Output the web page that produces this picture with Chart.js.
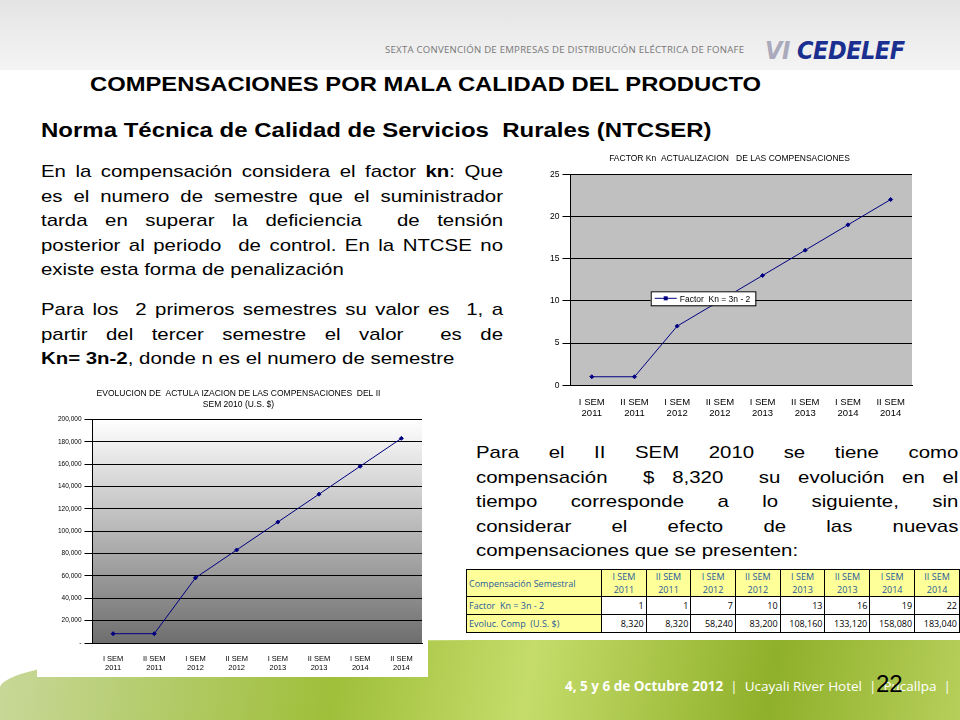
<!DOCTYPE html>
<html>
<head>
<meta charset="utf-8">
<script src="https://cdn.jsdelivr.net/npm/chart.js@4"></script>
<style>
  body { margin: 0; width: 960px; height: 720px; position: relative; overflow: hidden;
         font-family: "Liberation Sans", Arial, sans-serif; background: #fff; }
  .topband { position: absolute; left: 0; top: 0; width: 960px; height: 70px;
             background: linear-gradient(#e4e4e4, #f4f4f4); }
  .conv { position: absolute; left: 385px; top: 43px; font-family: "Open Sans", sans-serif;
          font-size: 9.6px; color: #777; letter-spacing: 0.25px; }
  .logo { position: absolute; left: 765px; top: 36px; font: italic bold 25px "Liberation Sans Narrow", "DejaVu Sans Condensed", sans-serif;
          color: #1a2f8f; letter-spacing: -0.5px; }
  .logo span { color: #aab; }
  .h1, .h2 { position: absolute; font-weight: bold; font-size: 19.5px; transform-origin: 0 0; white-space: nowrap; }
  .h1 { left: 90px; top: 73px; transform: scaleX(1.22); }
  .h2 { left: 41px; top: 119px; transform: scaleX(1.23); }
  .txt { position: absolute; font-size: 17px; transform: scaleX(1.2); transform-origin: 0 0; }
  .txt div { height: 24.5px; text-align: justify; text-align-last: justify; white-space: nowrap; }
  .txt div.last { text-align-last: left; }
  .box { position: absolute; background: #fff; }
  .footer { position: absolute; left: 0; top: 640px; width: 960px; height: 80px;
            background: linear-gradient(100deg, #c8d89a 0%, #9fbf3a 35%, #c5dc6a 55%, #8fb02a 80%, #b6cf5a 100%);
            border-top-left-radius: 50% 60%; }
  .foottxt { position: absolute; left: 565px; top: 677px; font-family: "Open Sans", sans-serif; font-size: 13.5px; color: #fff; }
  .pg { position: absolute; left: 876px; top: 670px; font-size: 24px; color: #000; }
  table { position: absolute; left: 466px; top: 569px; border-collapse: collapse;
          font-family: "Open Sans", sans-serif; font-size: 9px; }
  td { border: 1px solid #000; padding: 0 2px; height: 17px; }
  td.h { background: #ffff99; color: #1f5a9a; text-align: center; line-height: 13px; width: 40px; }
  td.l { background: #ffff99; color: #1f5a9a; width: 132px; }
  td.v { text-align: right; }
</style>
</head>
<body>
<div class="topband"></div>
<div class="conv">SEXTA CONVENCIÓN DE EMPRESAS DE DISTRIBUCIÓN ELÉCTRICA DE FONAFE</div>
<div class="logo"><span>VI</span> CEDELEF</div>
<div class="footer"></div>
<div class="foottxt"><b>4, 5 y 6 de Octubre 2012</b> &nbsp;|&nbsp; Ucayali River Hotel &nbsp;|&nbsp; Pucallpa &nbsp;|</div>
<div class="pg">22</div>

<div class="h1">COMPENSACIONES POR MALA CALIDAD DEL PRODUCTO</div>
<div class="h2">Norma Técnica de Calidad de Servicios &nbsp;Rurales (NTCSER)</div>

<div class="txt" style="left:41px; top:162px; width:385px;">
  <div>En la compensación considera el factor <b>kn</b>: Que</div>
  <div>es el numero de semestre que el suministrador</div>
  <div>tarda en superar la deficiencia &nbsp;de tensión</div>
  <div>posterior al periodo &nbsp;de control. En la NTCSE no</div>
  <div class="last">existe esta forma de penalización</div>
</div>
<div class="txt" style="left:41px; top:300px; width:385px;">
  <div>Para los &nbsp;2 primeros semestres su valor es &nbsp;1, a</div>
  <div>partir del tercer semestre el valor &nbsp;es de</div>
  <div class="last"><b>Kn= 3n-2</b>, donde n es el numero de semestre</div>
</div>
<div class="txt" style="left:476px; top:443px; width:402px;">
  <div>Para el II SEM 2010 se tiene como</div>
  <div>compensación &nbsp;$ 8,320 &nbsp;su evolución en el</div>
  <div>tiempo corresponde a lo siguiente, sin</div>
  <div>considerar el efecto de las nuevas</div>
  <div class="last">compensaciones que se presenten:</div>
</div>

<div class="box" style="left:543px; top:148px; width:375px; height:276px;"><canvas id="c1"></canvas></div>
<div class="box" style="left:37px; top:383px; width:391px; height:294px;"><canvas id="c2"></canvas></div>

<table id="tbl"></table>

<script>
const semestres = [["I SEM", "2011"], ["II SEM", "2011"], ["I SEM", "2012"], ["II SEM", "2012"],
                   ["I SEM", "2013"], ["II SEM", "2013"], ["I SEM", "2014"], ["II SEM", "2014"]];
const factorKn = [1, 1, 7, 10, 13, 16, 19, 22];
const evolComp = [8320, 8320, 58240, 83200, 108160, 133120, 158080, 183040];

// table
const tbl = document.getElementById("tbl");
let html = '<tr><td class="l">Compensación Semestral</td>' +
  semestres.map((s) => '<td class="h">' + s[0] + '<br>' + s[1] + '</td>').join("") + '</tr>';
html += '<tr><td class="l">Factor &nbsp;Kn = 3n - 2</td>' + factorKn.map((v) => '<td class="v">' + v + '</td>').join("") + '</tr>';
html += '<tr><td class="l">Evoluc. Comp &nbsp;(U.S. $)</td>' + evolComp.map((v) => '<td class="v">' + v.toLocaleString("en-US") + '</td>').join("") + '</tr>';
tbl.innerHTML = html;

const plotBg = {
  id: "plotBg",
  beforeDraw(chart, args, opts) {
    const a = chart.chartArea, ctx = chart.ctx;
    ctx.save();
    if (opts.gradient) {
      const g = ctx.createLinearGradient(0, a.top, 0, a.bottom);
      g.addColorStop(0, "#ffffff");
      g.addColorStop(1, "#6e6e6e");
      ctx.fillStyle = g;
    } else {
      ctx.fillStyle = "#c0c0c0";
    }
    ctx.fillRect(a.left, a.top, a.right - a.left, a.bottom - a.top);
    ctx.restore();
  },
  // boxed legend sitting inside the plot, like the Excel original
  afterDraw(chart, args, opts) {
    if (!opts.legendBox) return;
    const a = chart.chartArea, ctx = chart.ctx;
    const label = chart.data.datasets[0].label;
    ctx.save();
    ctx.font = "8.5px 'Liberation Sans', Arial";
    const w = ctx.measureText(label).width + 34, h = 14;
    const x = a.left + (a.right - a.left) * 0.235, y = a.top + (a.bottom - a.top) * 0.555;
    ctx.fillStyle = "#fff";
    ctx.fillRect(x, y, w, h);
    ctx.strokeStyle = "#000";
    ctx.lineWidth = 1;
    ctx.strokeRect(x + 0.5, y + 0.5, w, h);
    ctx.strokeStyle = "#000080";
    ctx.beginPath();
    ctx.moveTo(x + 4, y + h / 2);
    ctx.lineTo(x + 26, y + h / 2);
    ctx.stroke();
    ctx.fillStyle = "#000080";
    ctx.fillRect(x + 13, y + h / 2 - 2, 4, 4);
    ctx.fillStyle = "#000";
    ctx.textBaseline = "middle";
    ctx.fillText(label, x + 29, y + h / 2 + 1);
    ctx.restore();
  },
};

function lineConfig(values, label, title, yOpts, gradient, legendBox, xFont, padLeft) {
  return {
    type: "line",
    data: {
      labels: semestres,
      datasets: [{
        label: label,
        data: values,
        borderColor: "#000080",
        backgroundColor: "#000080",
        borderWidth: 1,
        pointRadius: 2,
        pointStyle: "rectRot",
        tension: 0,
      }],
    },
    options: {
      responsive: true,
      maintainAspectRatio: false,
      animation: false,
      layout: { padding: { left: padLeft, right: 6, bottom: 2 } },
      plugins: {
        plotBg: { gradient: gradient, legendBox: legendBox },
        legend: { display: false },
        title: { display: true, text: title, color: "#000", font: { size: 8.5, weight: "normal" }, padding: { top: 6, bottom: 10 } },
        tooltip: { enabled: false },
      },
      scales: {
        x: {
          offset: true,
          grid: { display: false },
          border: { color: "#000" },
          ticks: { color: "#000", font: { size: xFont }, maxRotation: 0, autoSkip: false },
        },
        y: Object.assign({
          grid: { color: "#000", lineWidth: 1 },
          border: { color: "#000" },
        }, yOpts),
      },
    },
    plugins: [plotBg],
  };
}

new Chart(document.getElementById("c1"), lineConfig(
  factorKn, "Factor  Kn = 3n - 2", "FACTOR Kn  ACTUALIZACION   DE LAS COMPENSACIONES",
  { min: 0, max: 25, ticks: { stepSize: 5, color: "#000", font: { size: 8.5 } } },
  false, true, 9.5, 4
));

new Chart(document.getElementById("c2"), lineConfig(
  evolComp, "Evoluc. Comp (U.S. $)",
  ["EVOLUCION DE  ACTULA IZACION DE LAS COMPENSACIONES  DEL II", "SEM 2010 (U.S. $)"],
  { min: 0, max: 200000,
    ticks: { stepSize: 20000, color: "#000", font: { size: 6.5 },
             callback: (v) => (v === 0 ? "-" : v.toLocaleString("en-US")) } },
  true, false, 7.5, 18
));
</script>
</body>
</html>
